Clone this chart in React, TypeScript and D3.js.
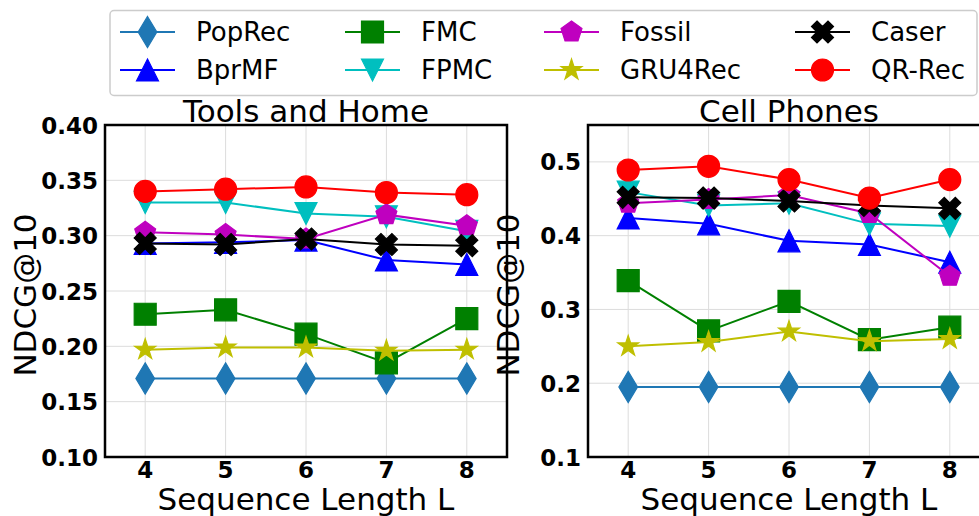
import React from 'react';
import * as d3 from 'd3';

const lengths = [4, 5, 6, 7, 8];
const methods = ['PopRec', 'BprMF', 'FMC', 'FPMC', 'Fossil', 'GRU4Rec', 'Caser', 'QR-Rec'];
const colors = ['#1f77b4', '#0000ff', '#008000', '#00bfbf', '#bf00bf', '#bfbf00', '#000000', '#ff0000'];
const markerKinds = ['thinDiamond', 'triUp', 'square', 'triDown', 'pentagon', 'star', 'xFilled', 'circle'];

// Tools and Home
const toolsPopRec = [0.171, 0.171, 0.171, 0.171, 0.171];
const toolsBprMF = [0.293, 0.294, 0.296, 0.278, 0.274];
const toolsFMC = [0.229, 0.233, 0.211, 0.185, 0.225];
const toolsFPMC = [0.330, 0.330, 0.320, 0.317, 0.304];
const toolsFossil = [0.303, 0.301, 0.297, 0.319, 0.309];
const toolsGRU4Rec = [0.197, 0.199, 0.199, 0.196, 0.197];
const toolsCaser = [0.293, 0.292, 0.297, 0.292, 0.291];
const toolsQRRec = [0.340, 0.342, 0.344, 0.339, 0.337];

// Cell Phones
const phonesPopRec = [0.195, 0.195, 0.195, 0.195, 0.195];
const phonesBprMF = [0.424, 0.416, 0.393, 0.388, 0.364];
const phonesFMC = [0.339, 0.271, 0.311, 0.259, 0.276];
const phonesFPMC = [0.459, 0.441, 0.444, 0.416, 0.413];
const phonesFossil = [0.444, 0.449, 0.455, 0.430, 0.345];
const phonesGRU4Rec = [0.250, 0.256, 0.270, 0.257, 0.260];
const phonesCaser = [0.452, 0.451, 0.447, 0.441, 0.437];
const phonesQRRec = [0.489, 0.494, 0.476, 0.451, 0.476];

const toolsTicks = [0.10, 0.15, 0.20, 0.25, 0.30, 0.35, 0.40];
const phonesTicks = [0.1, 0.2, 0.3, 0.4, 0.5];

const FONT = 'DejaVu Sans, Verdana, sans-serif';
const MS = 22;

function markerPath(kind: string, s: number): string {
  const h = s / 2;
  const pts = (arr: [number, number][]) => 'M' + arr.map(p => `${p[0]},${p[1]}`).join('L') + 'Z';
  switch (kind) {
    case 'square':
      return pts([[-h, -h], [h, -h], [h, h], [-h, h]]);
    case 'triUp':
      return pts([[0, -h], [h, h], [-h, h]]);
    case 'triDown':
      return pts([[0, h], [h, -h], [-h, -h]]);
    case 'thinDiamond': {
      const dh = (s * Math.SQRT2) / 2;
      const dw = dh * 0.6;
      return pts([[0, -dh], [dw, 0], [0, dh], [-dw, 0]]);
    }
    case 'pentagon': {
      const arr: [number, number][] = [];
      for (let i = 0; i < 5; i++) {
        const a = -Math.PI / 2 + (i * 2 * Math.PI) / 5;
        arr.push([h * Math.cos(a), h * Math.sin(a)]);
      }
      return pts(arr);
    }
    case 'star': {
      const arr: [number, number][] = [];
      for (let i = 0; i < 10; i++) {
        const r = i % 2 === 0 ? h : h * 0.381966;
        const a = -Math.PI / 2 + (i * Math.PI) / 5;
        arr.push([r * Math.cos(a), r * Math.sin(a)]);
      }
      return pts(arr);
    }
    case 'xFilled': {
      const base: [number, number][] = [[-1, -2], [0, -1], [1, -2], [2, -1], [1, 0], [2, 1], [1, 2], [0, 1], [-1, 2], [-2, 1], [-1, 0], [-2, -1]];
      return pts(base.map(p => [(p[0] / 4) * s, (p[1] / 4) * s] as [number, number]));
    }
    default:
      return '';
  }
}

function Marker({ kind, color, x, y }: { kind: string; color: string; x: number; y: number }) {
  if (kind === 'circle') {
    return <circle cx={x} cy={y} r={MS / 2} fill={color} stroke={color} strokeWidth={1.2} />;
  }
  return <path d={markerPath(kind, MS)} transform={`translate(${x},${y})`} fill={color} stroke={color} strokeWidth={1.2} strokeLinejoin="miter" />;
}

interface PanelProps {
  title: string;
  left: number;
  right: number;
  top: number;
  bottom: number;
  yDomain: [number, number];
  yTicks: number[];
  tickFmt: (v: number) => string;
  series: number[][];
  clipId: string;
}

function Panel({ title, left, right, top, bottom, yDomain, yTicks, tickFmt, series, clipId }: PanelProps) {
  const x = d3.scaleLinear().domain([3.5, 8.5]).range([left, right]);
  const y = d3.scaleLinear().domain(yDomain).range([bottom, top]);
  const line = d3.line<number>().x((_, i) => x(lengths[i])).y(d => y(d));
  const cx = (left + right) / 2;
  const cy = (top + bottom) / 2;
  return (
    <g>
      <defs>
        <clipPath id={clipId}>
          <rect x={left} y={top} width={right - left} height={bottom - top} />
        </clipPath>
      </defs>
      <rect x={left} y={top} width={right - left} height={bottom - top} fill="#ffffff" />
      {yTicks.map(t => (
        <line key={'gy' + t} x1={left} x2={right} y1={y(t)} y2={y(t)} stroke="#dcdcdc" strokeWidth={1} />
      ))}
      {lengths.map(l => (
        <line key={'gx' + l} x1={x(l)} x2={x(l)} y1={top} y2={bottom} stroke="#dcdcdc" strokeWidth={1} />
      ))}
      <g clipPath={`url(#${clipId})`}>
        {series.map((vals, si) => (
          <g key={methods[si]}>
            <path d={line(vals) || ''} fill="none" stroke={colors[si]} strokeWidth={2} />
            {vals.map((v, i) => (
              <Marker key={i} kind={markerKinds[si]} color={colors[si]} x={x(lengths[i])} y={y(v)} />
            ))}
          </g>
        ))}
      </g>
      <rect x={left} y={top} width={right - left} height={bottom - top} fill="none" stroke="#000" strokeWidth={2.5} />
      {yTicks.map(t => (
        <text key={'ty' + t} x={left - 7} y={y(t)} dy="0.37em" textAnchor="end" fontFamily={FONT} fontWeight="bold" fontSize={23} fill="#000">
          {tickFmt(t)}
        </text>
      ))}
      {lengths.map(l => (
        <text key={'tx' + l} x={x(l)} y={bottom + 21} textAnchor="middle" fontFamily={FONT} fontWeight="bold" fontSize={23} fill="#000">
          {l}
        </text>
      ))}
      <text x={cx} y={top - 3} textAnchor="middle" fontFamily={FONT} fontSize={31} fill="#000">
        {title}
      </text>
      <text x={cx} y={bottom + 53} textAnchor="middle" fontFamily={FONT} fontSize={31} fill="#000">
        Sequence Length L
      </text>
      <text transform={`translate(${left - 69},${cy + 4}) rotate(-90)`} textAnchor="middle" fontFamily={FONT} fontSize={31} fill="#000">
        NDCG@10
      </text>
    </g>
  );
}

function Legend() {
  const colX = [120, 345, 544, 795];
  const rowY = [32, 70];
  const lineLen = 55;
  return (
    <g>
      <rect x={110} y={10.5} width={867} height={85} rx={4} ry={4} fill="#ffffff" stroke="#cccccc" strokeWidth={1.5} />
      {methods.map((m, i) => {
        const col = Math.floor(i / 2);
        const row = i % 2;
        const x0 = colX[col];
        const yy = rowY[row];
        return (
          <g key={m}>
            <line x1={x0} x2={x0 + lineLen} y1={yy} y2={yy} stroke={colors[i]} strokeWidth={2} />
            <Marker kind={markerKinds[i]} color={colors[i]} x={x0 + lineLen / 2} y={yy} />
            <text x={x0 + 76} y={yy} dy="0.36em" fontFamily={FONT} fontSize={26} fill="#000">
              {m}
            </text>
          </g>
        );
      })}
    </g>
  );
}

export default function App() {
  const toolsSeries = [toolsPopRec, toolsBprMF, toolsFMC, toolsFPMC, toolsFossil, toolsGRU4Rec, toolsCaser, toolsQRRec];
  const phonesSeries = [phonesPopRec, phonesBprMF, phonesFMC, phonesFPMC, phonesFossil, phonesGRU4Rec, phonesCaser, phonesQRRec];
  return (
    <svg width={979} height={516} style={{ position: 'absolute', left: 0, top: 0, background: '#fff' }}>
      <rect x={0} y={0} width={979} height={516} fill="#fff" />
      <Panel
        title="Tools and Home"
        left={105}
        right={507}
        top={125}
        bottom={457}
        yDomain={[0.1, 0.4]}
        yTicks={toolsTicks}
        tickFmt={d3.format('.2f')}
        series={toolsSeries}
        clipId="clipTools"
      />
      <Panel
        title="Cell Phones"
        left={588}
        right={990}
        top={125}
        bottom={457}
        yDomain={[0.1, 0.55]}
        yTicks={phonesTicks}
        tickFmt={d3.format('.1f')}
        series={phonesSeries}
        clipId="clipPhones"
      />
      <Legend />
    </svg>
  );
}
